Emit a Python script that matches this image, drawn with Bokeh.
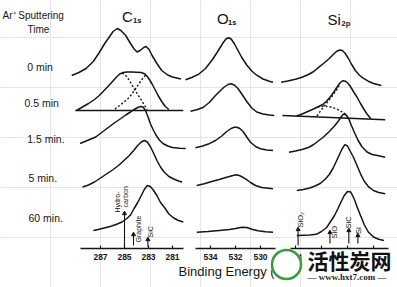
import math
from bokeh.plotting import figure
from bokeh.models import Range1d, LinearAxis, FixedTicker
from bokeh.core.properties import value
from bokeh.embed import file_html
from bokeh.resources import INLINE

# ------------------------------------------------------------------ data
ROW_LABELS = ["0 min", "0.5 min", "1.5 min.", "5 min.", "60 min."]
HEADER_1 = "Ar\u207a Sputtering"
HEADER_2 = "Time"
PANEL_ELEMENTS = ["C", "O", "Si"]
PANEL_LEVELS = ["1s", "1s", "2p"]
X_LABEL = "Binding Energy (eV)"

C1S_TICKS = [287, 285, 283, 281]
O1S_TICKS = [534, 532, 530]
SI2P_TICKS = [104, 102, 100, 98]

# C 1s spectra (binding energy eV, intensity a.u.)
C1S_0_E = [289.4, 288.8, 288.2, 287.6, 287.1, 286.7, 286.3, 285.95, 285.6, 285.3, 284.9, 284.5,
           284.2, 283.95, 283.7, 283.4, 283.2, 282.95, 282.7, 282.3, 281.9, 281.4, 281.0, 280.3]
C1S_0_I = [5, 8, 12, 19, 28, 36, 43, 49, 52, 50, 45, 37, 31.5, 28.5, 30, 33, 34, 31, 25, 17, 10, 5.5, 3.5, 1.5]
C1S_05_E = [289.0, 288.5, 288.0, 287.5, 287.1, 286.7, 286.3, 286.0, 285.7, 285.4, 285.1, 284.8, 284.4,
            284.0, 283.6, 283.3, 283.1, 282.9, 282.7, 282.5, 282.2, 281.9, 281.6, 281.3]
C1S_05_I = [0, 3.5, 7, 11, 15, 20, 25, 29, 33, 36.5, 38, 38.5, 38.5, 38.3, 38, 36.5, 34, 30.5, 26.5, 22, 15, 9, 4, 1]
C1S_05_BG_E = [289.1, 280.1]
C1S_05_BG_I = [0, 0]
C1S_05_HC_E = [285.2, 284.8, 284.5, 284.2, 283.9, 283.65, 283.4, 283.1]
C1S_05_HC_I = [37.5, 34, 28, 22, 16, 11.5, 6.5, 1]
C1S_05_SIC_E = [285.8, 285.4, 285.0, 284.6, 284.3, 284.0, 283.7, 283.4, 283.15]
C1S_05_SIC_I = [1.5, 5, 9, 13, 18, 23, 28.5, 33.5, 36]
C1S_15_E = [288.7, 288.1, 287.4, 286.9, 286.3, 285.8, 285.3, 284.9, 284.5, 284.2, 283.9, 283.65, 283.45,
            283.25, 283.05, 282.85, 282.6, 282.4, 282.1, 281.8, 281.4, 281.0, 280.4, 279.9]
C1S_15_I = [7, 10, 13.5, 18, 23.5, 28, 32, 35.5, 38.5, 41, 43, 44, 43.5, 40, 34, 27, 20.5, 16, 10.5, 7,
            4.5, 3, 2.3, 2]
C1S_5_E = [288.5, 288.0, 287.5, 287.0, 286.5, 286.0, 285.5, 285.0, 284.6, 284.2, 283.9, 283.6, 283.35,
           283.1, 282.85, 282.6, 282.3, 282.0, 281.7, 281.3, 280.9, 280.5, 280.2]
C1S_5_I = [0.5, 2.5, 5.5, 9.5, 13.5, 17.5, 22, 27.5, 32, 37.5, 42, 45.5, 47, 45.5, 41, 35, 27, 20.5, 15.5,
           11, 8.5, 6.5, 5.5]
C1S_60_E = [287.6, 287.2, 286.7, 286.2, 285.7, 285.2, 284.8, 284.5, 284.2, 283.9, 283.6, 283.35, 283.1,
            282.85, 282.6, 282.3, 282.0, 281.7, 281.3, 280.9, 280.5, 280.1]
C1S_60_I = [2, 3, 4.5, 6, 8, 10.5, 14, 17.5, 24, 30, 37, 43, 47, 46, 42.5, 37, 30, 25.5, 18.5, 14.5, 12, 10.5]

# O 1s spectra
O1S_0_E = [536.0, 535.5, 534.9, 534.4, 533.9, 533.5, 533.2, 532.95, 532.75, 532.55, 532.35, 532.1, 531.8,
           531.5, 531.1, 530.7, 530.3, 529.8, 529.3, 529.0]
O1S_0_I = [2.7, 5, 8.7, 14, 22, 29.5, 35.5, 40.5, 43.8, 44.7, 43.5, 39, 32, 25, 17.5, 11.5, 7.3, 3.5, 1.2, 0.3]
O1S_05_E = [535.6, 535.1, 534.6, 534.1, 533.6, 533.2, 532.9, 532.6, 532.35, 532.1, 531.8, 531.5, 531.1,
            530.7, 530.3, 529.8, 529.3, 528.9]
O1S_05_I = [4.3, 5.8, 8, 13, 20, 25, 28.5, 31, 31.7, 30.5, 27, 21.5, 14, 7.5, 3.5, 1.5, 0.5, 0]
O1S_15_E = [535.2, 534.7, 534.1, 533.6, 533.1, 532.7, 532.35, 532.1, 531.9, 531.65, 531.4, 531.1, 530.8,
            530.4, 530.0, 529.5, 529.0]
O1S_15_I = [2.7, 4.3, 6.8, 10, 14.5, 19, 22, 23.2, 23.3, 22, 19, 13.5, 8.3, 4, 1.7, 0.5, 0]
O1S_5_E = [535.1, 534.5, 533.9, 533.3, 532.7, 532.2, 531.9, 531.6, 531.2, 530.8, 530.4, 529.9, 529.0]
O1S_5_I = [3.5, 5.3, 7.5, 9.5, 11.8, 13.5, 14.2, 13, 10.2, 6.5, 3.5, 1.5, 0.2]
O1S_60_E = [535.1, 534.2, 533.3, 532.5, 532.0, 531.5, 531.1, 530.7, 530.2, 529.6, 529.0]
O1S_60_I = [0.3, 1, 2, 3, 4, 5.3, 5, 3.2, 1.8, 0.8, 0.3]

# Si 2p spectra
SI_0_E = [105.1, 104.6, 104.0, 103.5, 103.0, 102.6, 102.2, 101.8, 101.4, 101.1, 100.85, 100.6, 100.4,
          100.2, 99.95, 99.7, 99.4, 99.1, 98.8, 98.4, 98.0, 97.4]
SI_0_I = [3.8, 5, 6.8, 8.8, 11.5, 14.5, 18.8, 23, 27.5, 31.5, 34.5, 36, 35.5, 33, 28, 22, 15.5, 11, 7.8,
          4.8, 2.5, 0.5]
SI_05_E = [103.9, 103.5, 103.1, 102.7, 102.3, 101.9, 101.6, 101.3, 101.05, 100.8, 100.55, 100.35, 100.15,
           99.95, 99.75, 99.5, 99.25, 99.0, 98.75, 98.5, 98.2]
SI_05_I = [1.5, 3.5, 5.8, 8, 10.5, 13, 16.5, 21, 25.5, 30.5, 35, 36.8, 36.3, 34, 30.5, 25, 20, 14, 8.5,
           3.5, -1.3]
SI_05_BG_E = [105.0, 97.1]
SI_05_BG_I = [2, -2.3]
SI_05_SIC_E = [102.35, 102.0, 101.6, 101.2, 100.85, 100.65]
SI_05_SIC_I = [1.5, 8, 14.5, 21, 27.5, 31.5]
SI_05_OX_E = [102.3, 101.85, 101.3, 100.8, 100.4, 100.0]
SI_05_OX_I = [10.5, 11.5, 10.5, 8.5, 5.5, 2]
SI_15_E = [104.5, 104.0, 103.5, 103.0, 102.6, 102.2, 101.8, 101.4, 101.0, 100.7, 100.5, 100.3, 100.1,
           99.9, 99.7, 99.45, 99.2, 98.9, 98.5, 98.1, 97.7, 97.1]
SI_15_I = [5.3, 6.5, 8, 10, 13, 17, 21, 26, 31.5, 36.5, 40.5, 43.5, 42.5, 38.5, 32, 24.5, 17.5, 11, 5.5,
           3, 2, 0.3]
SI_5_E = [103.9, 103.4, 102.9, 102.5, 102.1, 101.7, 101.4, 101.1, 100.85, 100.6, 100.4, 100.2, 100.0,
          99.8, 99.55, 99.3, 99.0, 98.7, 98.35, 98.0, 97.6, 97.1]
SI_5_I = [3.5, 4.5, 6, 8, 10.5, 15, 19.5, 26, 33, 40, 45.5, 49.3, 48, 43, 37, 29.5, 20.2, 12.5, 6.8,
          3.5, 1.5, 0.2]
SI_60_E = [103.9, 103.4, 102.9, 102.4, 102.0, 101.6, 101.3, 101.0, 100.75, 100.5, 100.25, 100.0, 99.75,
           99.5, 99.25, 99.0, 98.7, 98.4, 98.0, 97.6, 97.2]
SI_60_I = [5, 5.3, 5.6, 6.2, 9, 13, 19, 25, 31.5, 38.5, 45, 49, 48.5, 42, 33.3, 25, 15.5, 8.5, 3.5, 1.2, 0]

# reference binding energies marked under the 60 min spectra
C1S_REF_E = [285.0, 284.25, 283.05]
SI_REF_E = [103.8, 101.35, 99.9, 99.2]

WATERMARK_1 = "\u6d3b\u6027\u70ad\u7f51"
WATERMARK_2 = "\u2014 www.hxt7.com \u2014"

# ------------------------------------------------------------------ layout
W, H = 397, 287
PANEL_MAP = {"c": (287.0, 100.0, 12.0), "o": (534.0, 210.0, 12.5), "s": (104.0, 295.0, 13.0)}
ROW_BASE = {"c": [80, 110, 150, 187, 232], "o": [82, 115, 150, 188.5, 232],
            "s": [85.5, 117, 157, 193.5, 240]}
AXIS_Y = 248
AXIS_BOUNDS = {"c": (280.1, 288.67), "o": (528.8, 535.2), "s": (96.82, 104.38)}
INK = "#151515"
FONT = "Liberation Sans"


def erange(key):
    e0, x0, k = PANEL_MAP[key]
    return Range1d(start=e0 + x0 / k, end=e0 - (W - x0) / k)


p = figure(width=W, height=H, output_backend="svg", toolbar_location=None,
           x_range=Range1d(0, W), y_range=Range1d(0, H),
           x_axis_location=None, y_axis_location=None, min_border=0,
           background_fill_color="white", border_fill_color="white")
p.outline_line_color = None
p.extra_x_ranges = {k: erange(k) for k in PANEL_MAP}


def yy(key, row, vals):
    return [H - ROW_BASE[key][row] + v for v in vals]


solid = [
    ("c", 0, C1S_0_E, C1S_0_I), ("c", 1, C1S_05_E, C1S_05_I), ("c", 1, C1S_05_BG_E, C1S_05_BG_I),
    ("c", 2, C1S_15_E, C1S_15_I), ("c", 3, C1S_5_E, C1S_5_I), ("c", 4, C1S_60_E, C1S_60_I),
    ("o", 0, O1S_0_E, O1S_0_I), ("o", 1, O1S_05_E, O1S_05_I), ("o", 2, O1S_15_E, O1S_15_I),
    ("o", 3, O1S_5_E, O1S_5_I), ("o", 4, O1S_60_E, O1S_60_I),
    ("s", 0, SI_0_E, SI_0_I), ("s", 1, SI_05_E, SI_05_I), ("s", 1, SI_05_BG_E, SI_05_BG_I),
    ("s", 2, SI_15_E, SI_15_I), ("s", 3, SI_5_E, SI_5_I), ("s", 4, SI_60_E, SI_60_I),
]
for key, row, e, i in solid:
    p.line(e, yy(key, row, i), x_range_name=key, line_color=INK, line_width=1.5, line_join="round")

dotted = [("c", 1, C1S_05_HC_E, C1S_05_HC_I), ("c", 1, C1S_05_SIC_E, C1S_05_SIC_I),
          ("s", 1, SI_05_SIC_E, SI_05_SIC_I), ("s", 1, SI_05_OX_E, SI_05_OX_I)]
for key, row, e, i in dotted:
    p.line(e, yy(key, row, i), x_range_name=key, line_color=INK, line_width=1.4, line_dash="2 2")

# axes
for key, ticks in [("c", C1S_TICKS), ("o", O1S_TICKS), ("s", SI2P_TICKS)]:
    ax = LinearAxis(x_range_name=key, fixed_location=H - AXIS_Y, bounds=AXIS_BOUNDS[key],
                    ticker=FixedTicker(ticks=ticks, minor_ticks=[]))
    ax.axis_line_color = INK
    ax.axis_line_width = 1.4
    ax.major_tick_in = 3
    ax.major_tick_out = 0
    ax.major_tick_line_color = INK
    ax.major_tick_line_width = 1.2
    ax.minor_tick_line_color = None
    ax.major_label_standoff = 5
    ax.major_label_text_font = FONT
    ax.major_label_text_font_size = "8.5px"
    ax.major_label_text_font_style = "bold"
    ax.major_label_text_color = INK
    p.add_layout(ax, "below")


def txt(x, y, s, size, font=FONT, align="left", baseline="middle", angle=0.0, style="normal",
        color=INK, rng="default", dx=0, level=None):
    r = p.text(x=[x], y=[y], text=[s], text_font=value(font), text_font_size=f"{size}px",
               text_align=align, text_baseline=baseline, angle=angle, text_font_style=style,
               text_color=color, x_range_name=rng, x_offset=dx)
    if level:
        r.level = level
    return r


# header texts
txt(2, H - 15, HEADER_1, 10)
txt(27, H - 28.5, HEADER_2, 10)
for lab, (lx, ly) in zip(ROW_LABELS, [(26.7, 66.5), (24, 102.5), (26.7, 138.5), (28, 177.5), (28, 217.5)]):
    txt(lx, H - ly, lab, 10.5)

for el, lv, (ex, ey, sx, sy) in zip(PANEL_ELEMENTS, PANEL_LEVELS,
                                   [(121.5, 16, 132.5, 20), (216.5, 17.5, 227.5, 21.5), (327, 19, 341, 23)]):
    txt(ex, H - ey, el, 15)
    txt(sx, H - sy, lv, 7.5, style="bold")

txt(178, H - 271, X_LABEL, 13)

# reference markers under the 60 min spectra
c_arrows = [(0, 212, 247), (1, 233, 245), (2, 238, 246)]
s_arrows = [(0, 228, 245), (1, 231, 243), (2, 229, 243), (3, 234, 243)]
for key, refs, arrows in [("c", C1S_REF_E, c_arrows), ("s", SI_REF_E, s_arrows)]:
    xs = [refs[k] for k, _, _ in arrows]
    p.segment(x0=xs, y0=[H - b for _, _, b in arrows], x1=xs, y1=[H - t for _, t, _ in arrows],
              x_range_name=key, line_color=INK, line_width=1.1)
    p.scatter(xs, [H - t - 1 for _, t, _ in arrows], marker="triangle", size=4, x_range_name=key,
              fill_color=INK, line_color=INK)

c_texts = [("Hydro-", 0, -7.5, 212), ("carbon", 0, 1, 207), ("Graphite", 1, 4.5, 242), ("SiC", 2, 2.5, 237)]
for s, k, dx, bot in c_texts:
    txt(C1S_REF_E[k], H - bot, s, 7, rng="c", dx=dx, angle=math.pi / 2)
s_texts = [("SiO\u2082", 0, 2, 227), ("SiO", 1, 4.5, 238), ("SiC", 2, -0.5, 228), ("Si", 3, 0.5, 233.5)]
for s, k, dx, bot in s_texts:
    txt(SI_REF_E[k], H - bot, s, 7.5, rng="s", dx=dx, angle=math.pi / 2)

# watermark (site logo in the corner of the source image)
q = p.quad(left=[301], right=[395], bottom=[H - 268], top=[H - 251], fill_color="white", line_color=None)
q.level = "overlay"
c = p.circle(x=[286], y=[H - 264], radius=14.5, fill_color="white", line_color="#3c9b3c", line_width=2.5)
c.level = "overlay"
txt(307, H - 259.5, WATERMARK_1, 21, font="Noto Sans CJK SC", style="bold", color="#111", level="overlay")
txt(307, H - 276, WATERMARK_2, 9, font="Liberation Serif", style="bold", color="#222", level="overlay")

open("out.html", "w").write(file_html(p, INLINE))
